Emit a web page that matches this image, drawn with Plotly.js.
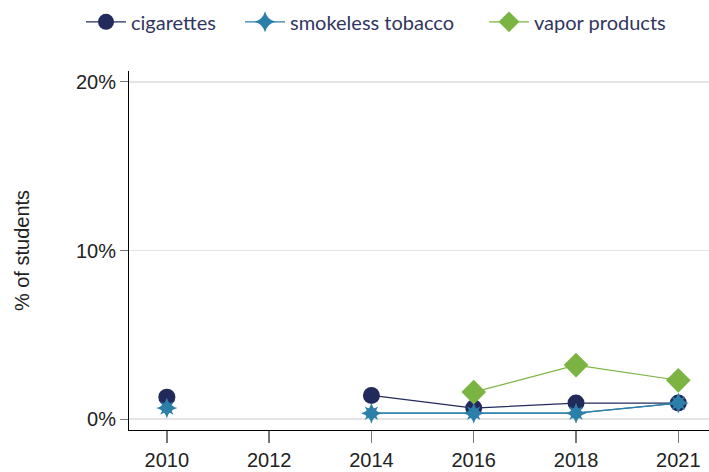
<!DOCTYPE html>
<html>
<head>
<meta charset="utf-8">
<script src="https://cdn.plot.ly/plotly-3.0.1.min.js"></script>
<style>html,body{margin:0;padding:0;background:#fff;overflow:hidden;}#chart{width:709px;height:472px;}</style>
</head>
<body>
<div id="chart"></div>
<script>
const years = ["2010", "2012", "2014", "2016", "2018", "2021"];
const cigarettes = [1.3, null, 1.4, 0.65, 0.95, 0.95];
const smokeless = [0.65, null, 0.35, 0.35, 0.35, 0.95];
const vapor = [null, null, null, 1.6, 3.2, 2.3];
const yTicks = [0, 10, 20];
const yTickText = ["0%", "10%", "20%"];

const navy = "#222a5c", teal = "#2b7fa8", green = "#7cb443";
const axisFont = {family: "Liberation Sans, Arial, sans-serif", size: 20, color: "#222"};
const legFont = {family: "Lato, 'Open Sans', sans-serif", size: 20, color: "#30365e", weight: 400};

const traces = [
  {x: years, y: cigarettes, name: "cigarettes", type: "scatter", mode: "lines+markers",
   connectgaps: false, legend: "legend", line: {color: navy, width: 1.3},
   marker: {symbol: "circle", size: 17, color: navy}},
  {x: years, y: smokeless, name: "smokeless tobacco", type: "scatter", mode: "lines+markers",
   connectgaps: false, showlegend: false, hoverinfo: "skip", line: {color: teal, width: 1.3},
   marker: {symbol: "star-square", size: 12, color: teal}},
  {x: years, y: smokeless, name: "smokeless tobacco", type: "scatter", mode: "lines+markers",
   connectgaps: false, legend: "legend2", line: {color: teal, width: 1.3},
   marker: {symbol: "star-diamond", size: 15, color: teal}},
  {x: years, y: vapor, name: "vapor products", type: "scatter", mode: "lines+markers",
   connectgaps: false, legend: "legend3", line: {color: green, width: 1.2},
   marker: {symbol: "diamond", size: 19, color: green}}
];

function leg(px) {
  return {orientation: "h", xref: "container", yref: "container", x: px / 709, xanchor: "left",
          y: 0.995, yanchor: "top", font: legFont, itemwidth: 40, bgcolor: "rgba(0,0,0,0)"};
}

const layout = {
  width: 709, height: 472,
  margin: {l: 129, r: 0, t: 71, b: 42},
  paper_bgcolor: "#fff", plot_bgcolor: "#fff",
  showlegend: true,
  legend: leg(81), legend2: leg(240), legend3: leg(484),
  xaxis: {type: "category", categoryorder: "array", categoryarray: years,
          range: [-0.37, 5.3], showline: true, linecolor: "#000", linewidth: 1,
          ticks: "outside", ticklen: 12, tickcolor: "#777", tickwidth: 1.5,
          ticklabelstandoff: 0,
          showgrid: false, zeroline: false, tickfont: axisFont},
  yaxis: {range: [-0.65, 20.65], tickvals: yTicks, ticktext: yTickText,
          showline: true, linecolor: "#000", linewidth: 1,
          ticks: "outside", ticklen: 8, tickcolor: "#777", tickwidth: 1,
          showgrid: true, gridcolor: "#e4e4e4", gridwidth: 1.5, zeroline: false,
          tickfont: axisFont,
          title: {text: "% of students", standoff: 40, font: axisFont}}
};

Plotly.newPlot("chart", traces, layout, {displayModeBar: false, staticPlot: true});
</script>
</body>
</html>
